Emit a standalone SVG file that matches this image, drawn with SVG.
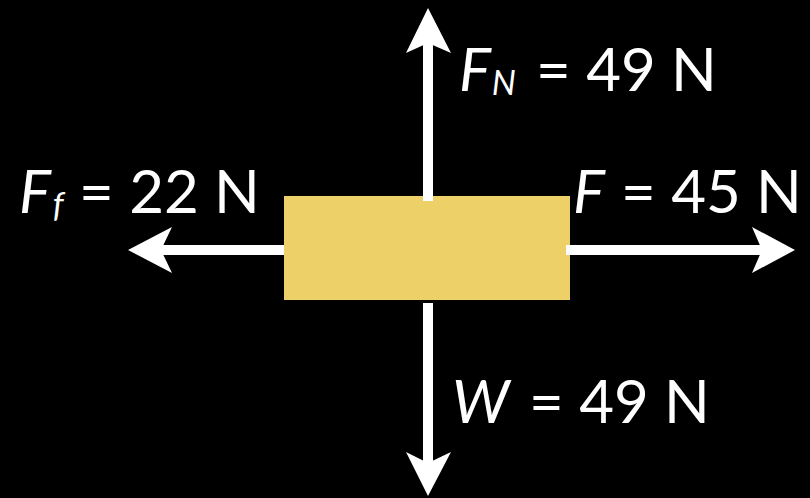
<svg xmlns="http://www.w3.org/2000/svg" width="810" height="498" viewBox="0 0 810 498">
<style>
.lbl{font-family:Lato,"Open Sans","Liberation Sans",sans-serif;font-size:60px;fill:#fff}
.it{font-style:italic}
.sub{font-size:34px;font-style:italic}
.shaft{stroke:#fff;stroke-width:10;fill:none}
.head{fill:#fff}
</style>
<rect x="0" y="0" width="810" height="498" fill="#000"/>
<g id="block"><rect x="284" y="196" width="286" height="104" fill="#EDD068"/></g>
<g id="connectors">
<line class="shaft" x1="428" y1="40" x2="428" y2="201"/>
<polygon class="head" points="428,8 451,53 428,43 406,53"/>
<line class="shaft" x1="428" y1="303" x2="428" y2="465"/>
<polygon class="head" points="428,496 451,452 428,463 406,452"/>
<line class="shaft" x1="160" y1="250" x2="284" y2="250"/>
<polygon class="head" points="128,250 172,227 161,250 172,273"/>
<line class="shaft" x1="566" y1="250" x2="764" y2="250"/>
<polygon class="head" points="795,250 752,227 762,250 752,273"/>
</g>
<g id="label-fn"><text class="lbl" x="459" y="91"><tspan class="it">F</tspan><tspan class="sub" dx="1" dy="4">N</tspan><tspan x="536" dy="-4">= 49 N</tspan></text></g>
<g id="label-ff"><text class="lbl" x="19" y="213"><tspan class="it">F</tspan><tspan class="sub" dx="2" dy="4">f</tspan><tspan x="79" dy="-4">= 22 N</tspan></text></g>
<g id="label-f"><text class="lbl" x="573" y="213"><tspan class="it">F</tspan><tspan x="621">= 45 N</tspan></text></g>
<g id="label-w"><text class="lbl" x="452" y="423"><tspan class="it">W</tspan><tspan x="529">= 49 N</tspan></text></g>
</svg>
